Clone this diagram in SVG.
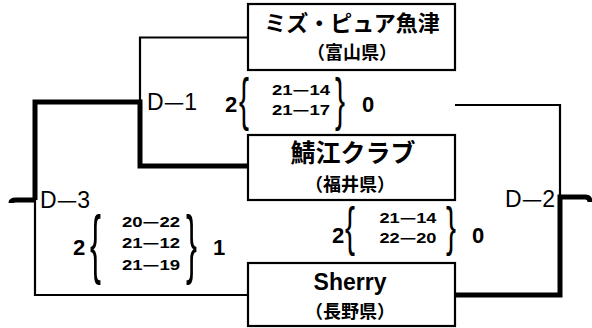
<svg xmlns="http://www.w3.org/2000/svg" width="592" height="328" viewBox="0 0 592 328">
<style>
.box{fill:#fff;stroke:#000;stroke-width:2.2}
.thin{fill:none;stroke:#000;stroke-width:2.2}
.thick{fill:none;stroke:#000;stroke-width:5;stroke-linejoin:miter}
.ttl{font-family:"Noto Sans CJK JP",sans-serif;font-weight:bold;text-anchor:middle;fill:#000}
.sub{font-family:"Noto Sans CJK JP",sans-serif;font-weight:bold;font-size:18px;text-anchor:middle;fill:#000}
.lab{font-family:"Liberation Sans",sans-serif;font-size:23px;fill:#000}
.sc{font-family:"Liberation Sans",sans-serif;font-weight:bold;font-size:15px;text-anchor:middle;fill:#000}
.num{font-family:"Liberation Sans",sans-serif;font-weight:bold;font-size:22px;fill:#000}
.br{font-family:"Liberation Sans",sans-serif;font-size:30px;fill:#000}
.d{font-family:"Noto Sans CJK JP",sans-serif}
</style>
<rect width="592" height="328" fill="#fff"/>
<g id="connectors">
  <path class="thin" d="M248,37.5 H140 V102"/>
  <path class="thick" d="M248,166 H140 V102 H35 V200"/>
  <path class="thin" d="M35,200 V295 H248"/>
  <path class="thick" d="M35,200 H16 Q11,200 11,203"/>
  <path class="thin" d="M455,105 H560 V197"/>
  <path class="thick" d="M455,295 H560 V197 H585 Q590,197 590,202"/>
</g>
<g id="node-mizu">
  <rect class="box" x="248" y="4" width="207" height="66"/>
  <text class="ttl" x="352" y="31" font-size="22">ミズ・ピュア魚津</text>
  <text class="sub" x="352" y="59">（富山県）</text>
</g>
<g id="node-sabae">
  <rect class="box" x="248" y="135" width="207" height="65"/>
  <text class="ttl" x="353" y="162" font-size="25">鯖江クラブ</text>
  <text class="sub" x="350" y="191">（福井県）</text>
</g>
<g id="node-sherry">
  <rect class="box" x="248" y="263" width="207" height="63"/>
  <text x="350" y="290" font-family="Liberation Sans, sans-serif" font-weight="bold" font-size="23" text-anchor="middle">Sherry</text>
  <text class="sub" x="350" y="318">（長野県）</text>
</g>
<g id="match-d1">
  <text class="lab" x="147" y="110">D<tspan class="d">—</tspan>1</text>
  <text class="num" x="225" y="112">2</text>
  <text class="br" transform="translate(239,119) scale(1,1.9)">{</text>
  <text class="sc" x="301" y="95" textLength="58" lengthAdjust="spacingAndGlyphs">21<tspan class="d">—</tspan>14</text>
  <text class="sc" x="301" y="115" textLength="58" lengthAdjust="spacingAndGlyphs">21<tspan class="d">—</tspan>17</text>
  <text class="br" transform="translate(335,119) scale(1,1.9)">}</text>
  <text class="num" x="362" y="112">0</text>
</g>
<g id="match-d2">
  <text class="lab" x="555" y="207" text-anchor="end">D<tspan class="d">—</tspan>2</text>
  <text class="num" x="332" y="243">2</text>
  <text class="br" transform="translate(345,244.5) scale(1,1.77)">{</text>
  <text class="sc" x="408" y="223" textLength="57" lengthAdjust="spacingAndGlyphs">21<tspan class="d">—</tspan>14</text>
  <text class="sc" x="408" y="243" textLength="57" lengthAdjust="spacingAndGlyphs">22<tspan class="d">—</tspan>20</text>
  <text class="br" transform="translate(446,244.5) scale(1,1.77)">}</text>
  <text class="num" x="472" y="243">0</text>
</g>
<g id="match-d3">
  <text class="lab" x="40" y="208">D<tspan class="d">—</tspan>3</text>
  <text class="num" x="73" y="255">2</text>
  <text class="br" transform="translate(90,269) scale(1.1,2.53)">{</text>
  <text class="sc" x="151" y="227" textLength="58" lengthAdjust="spacingAndGlyphs">20<tspan class="d">—</tspan>22</text>
  <text class="sc" x="151" y="248" textLength="58" lengthAdjust="spacingAndGlyphs">21<tspan class="d">—</tspan>12</text>
  <text class="sc" x="151" y="270" textLength="58" lengthAdjust="spacingAndGlyphs">21<tspan class="d">—</tspan>19</text>
  <text class="br" transform="translate(186,269) scale(1.1,2.53)">}</text>
  <text class="num" x="213" y="255">1</text>
</g>
</svg>
